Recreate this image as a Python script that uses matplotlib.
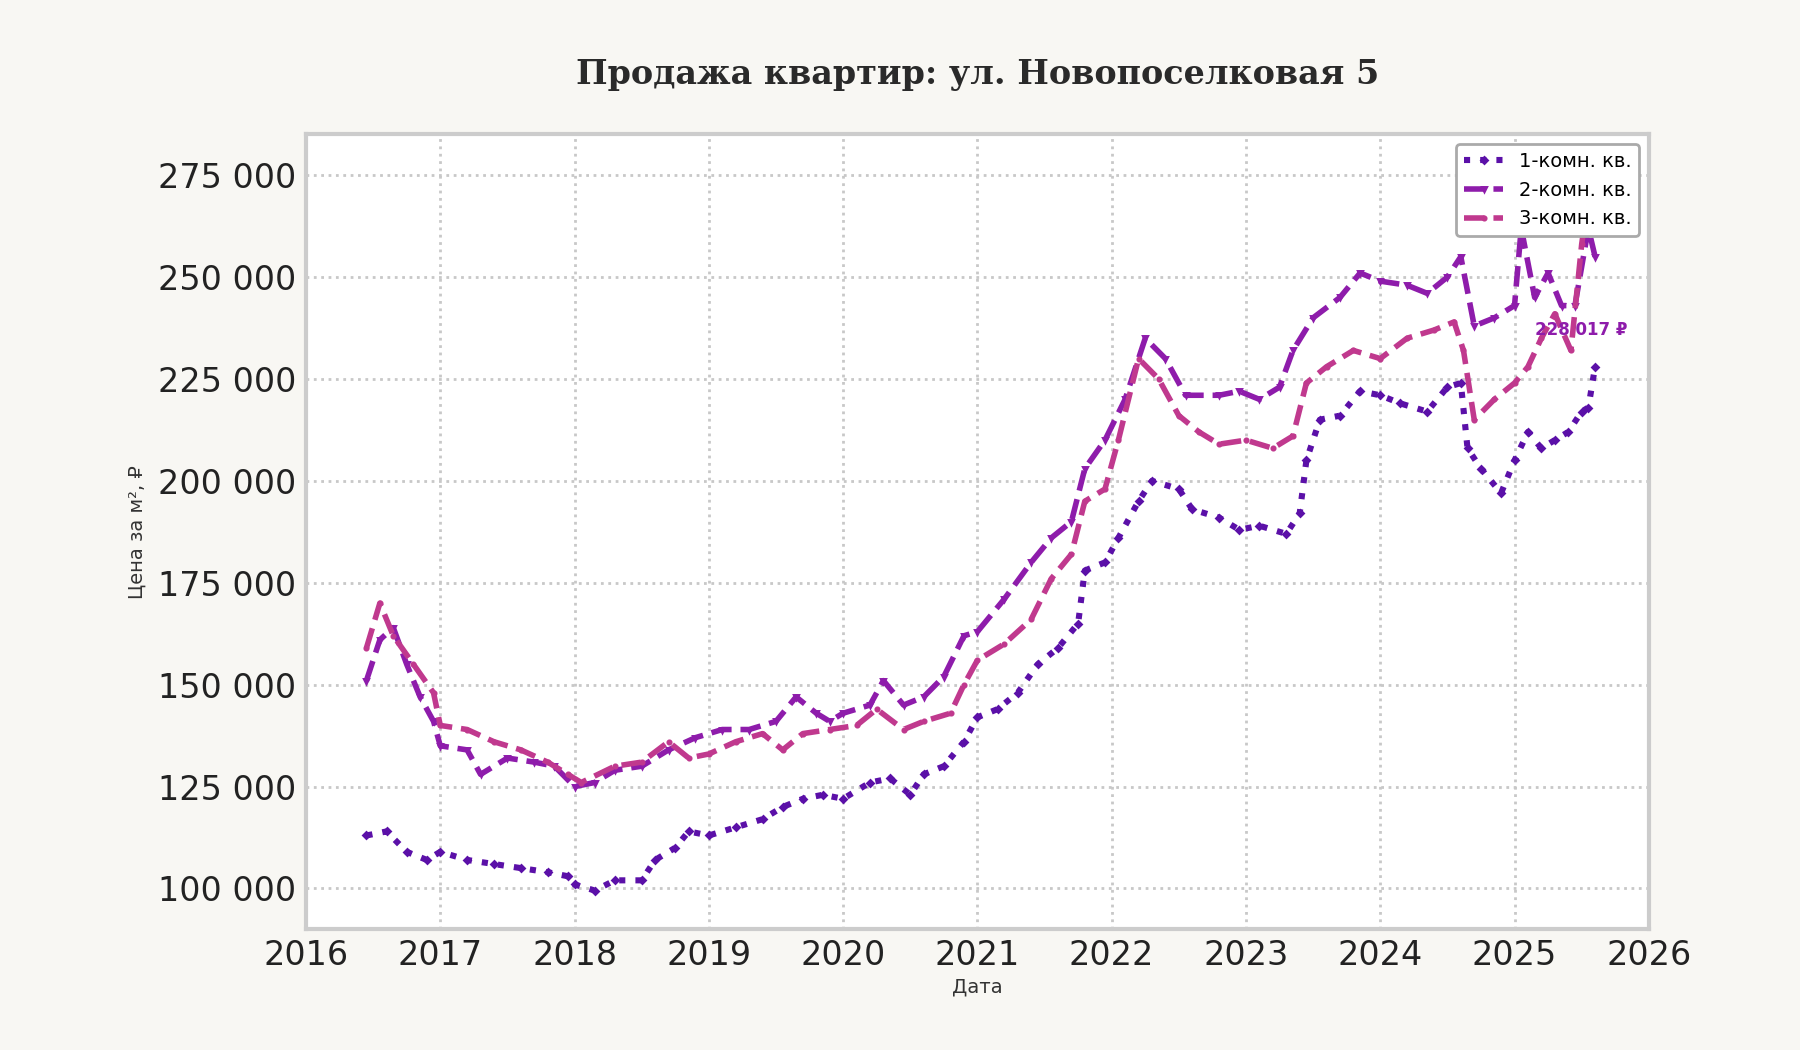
import matplotlib.pyplot as plt
from matplotlib.ticker import FuncFormatter

t1 = [2016.45, 2016.6, 2016.75, 2016.9, 2017.0, 2017.2, 2017.4, 2017.6, 2017.8, 2017.95, 2018.0, 2018.15, 2018.3,
      2018.5, 2018.6, 2018.75, 2018.85, 2019.0, 2019.2, 2019.4, 2019.55, 2019.7, 2019.85, 2020.0, 2020.2, 2020.35,
      2020.5, 2020.6, 2020.75, 2020.9, 2021.0, 2021.15, 2021.3, 2021.45, 2021.6, 2021.75, 2021.8, 2021.95, 2022.05,
      2022.2, 2022.3, 2022.5, 2022.6, 2022.8, 2022.95, 2023.1, 2023.3, 2023.4, 2023.45, 2023.55, 2023.7, 2023.85,
      2024.0, 2024.15, 2024.35, 2024.5, 2024.6, 2024.65, 2024.75, 2024.9, 2025.0, 2025.1, 2025.2, 2025.3, 2025.4,
      2025.5, 2025.55, 2025.6]
v1 = [113000, 114000, 109000, 107000, 109000, 107000, 106000, 105000, 104000, 103000, 101000, 99500, 102000,
      102000, 107000, 110000, 114000, 113000, 115000, 117000, 120000, 122000, 123000, 122000, 126000, 127000,
      123000, 128000, 130000, 136000, 142000, 144000, 148000, 155000, 159000, 165000, 178000, 180000, 186000,
      195000, 200000, 198000, 193000, 191000, 188000, 189000, 187000, 192000, 205000, 215000, 216000, 222000,
      221000, 219000, 217000, 223000, 224000, 208000, 203000, 197000, 205000, 212000, 208000, 210000, 212000,
      217000, 218000, 228017]

t2 = [2016.45, 2016.55, 2016.65, 2016.75, 2016.85, 2016.95, 2017.0, 2017.2, 2017.3, 2017.5, 2017.7, 2017.85,
      2018.0, 2018.15, 2018.3, 2018.5, 2018.7, 2018.9, 2019.1, 2019.3, 2019.5, 2019.65, 2019.8, 2019.9, 2020.0,
      2020.2, 2020.3, 2020.45, 2020.6, 2020.75, 2020.9, 2021.0, 2021.2, 2021.4, 2021.55, 2021.7, 2021.8, 2021.95,
      2022.1, 2022.25, 2022.4, 2022.55, 2022.8, 2022.95, 2023.1, 2023.25, 2023.35, 2023.5, 2023.7, 2023.85,
      2024.0, 2024.2, 2024.35, 2024.5, 2024.6, 2024.7, 2024.85, 2025.0, 2025.05, 2025.15, 2025.25, 2025.35,
      2025.45, 2025.55, 2025.6]
v2 = [151000, 161000, 164000, 155000, 147000, 141000, 135000, 134000, 128000, 132000, 131000, 130000,
      125000, 126000, 129000, 130000, 134000, 137000, 139000, 139000, 141000, 147000, 143000, 141000, 143000,
      145000, 151000, 145000, 147000, 152000, 162000, 163000, 171000, 180000, 186000, 190000, 203000, 210000,
      220000, 235000, 230000, 221000, 221000, 222000, 220000, 223000, 232000, 240000, 245000, 251000,
      249000, 248000, 246000, 250000, 255000, 238000, 240000, 243000, 262000, 245000, 251000, 243000,
      243000, 262000, 255000]

t3 = [2016.45, 2016.55, 2016.65, 2016.8, 2016.95, 2017.0, 2017.2, 2017.4, 2017.6, 2017.8, 2017.95, 2018.05,
      2018.3, 2018.5, 2018.7, 2018.85, 2019.0, 2019.2, 2019.4, 2019.55, 2019.7, 2019.9, 2020.1, 2020.25, 2020.45,
      2020.6, 2020.8, 2020.9, 2021.0, 2021.2, 2021.4, 2021.55, 2021.7, 2021.8, 2021.95, 2022.05, 2022.2, 2022.35,
      2022.5, 2022.65, 2022.8, 2023.0, 2023.2, 2023.35, 2023.45, 2023.6, 2023.8, 2024.0, 2024.2, 2024.4, 2024.55,
      2024.62, 2024.7, 2024.85, 2025.0, 2025.1, 2025.2, 2025.3, 2025.42, 2025.5, 2025.55, 2025.6]
v3 = [159000, 170000, 162000, 155000, 148000, 140000, 139000, 136000, 134000, 131000, 128000, 126000,
      130000, 131000, 136000, 132000, 133000, 136000, 138000, 134000, 138000, 139000, 140000, 144000, 139000,
      141000, 143000, 150000, 156000, 160000, 166000, 176000, 182000, 195000, 198000, 210000, 230000, 225000,
      216000, 212000, 209000, 210000, 208000, 211000, 224000, 228000, 232000, 230000, 235000, 237000, 239000,
      232000, 215000, 220000, 224000, 228000, 235000, 241000, 232000, 258000, 270000, 265000]

c1, c2, c3 = '#5b10a8', '#8e1cab', '#c0398e'

fig = plt.figure(figsize=(9, 5.25), dpi=200, facecolor='#f8f7f3')
ax = fig.add_axes([0.17, 0.115, 0.746, 0.757])
ax.set_facecolor('white')

ax.plot(t1, v1, ls=':', lw=2.2, color=c1, marker='D', ms=1.5, label='1-комн. кв.')
ax.plot(t2, v2, ls='--', lw=2.0, color=c2, marker='v', ms=1.5, label='2-комн. кв.')
ax.plot(t3, v3, ls='--', lw=2.0, color=c3, marker='o', ms=1.2, label='3-комн. кв.')

ax.text(2025.15, 237000, '228 017 ₽', color=c2, fontsize=6, fontweight='bold', va='center')

ax.set_xlim(2016, 2026)
ax.set_ylim(90000, 285000)
ax.set_xticks(range(2016, 2027))
ax.xaxis.set_major_formatter(FuncFormatter(lambda x, p: f'{int(x)}'))
ax.set_yticks(range(100000, 275001, 25000))
ax.yaxis.set_major_formatter(FuncFormatter(lambda y, p: f'{int(y):,}'.replace(',', ' ')))
ax.tick_params(labelsize=12, length=0, colors='#333333', labelcolor='#222222')
ax.grid(True, ls=':', color='#c8c8c8', lw=1)
for s in ax.spines.values():
    s.set_color('#cccccc')
    s.set_linewidth(1.5)

ax.set_xlabel('Дата', fontsize=7, color='#333333', labelpad=2)
ax.set_ylabel('Цена за м², ₽', fontsize=7, color='#333333')
ax.set_title('Продажа квартир: ул. Новопоселковая 5', fontsize=12, fontweight='bold',
             family='DejaVu Serif', color='#2a2a2a', pad=18)
leg = ax.legend(loc='upper right', fontsize=7, framealpha=1, edgecolor='#aaaaaa', fancybox=True)

fig.savefig('out.png', dpi=200, facecolor=fig.get_facecolor())
